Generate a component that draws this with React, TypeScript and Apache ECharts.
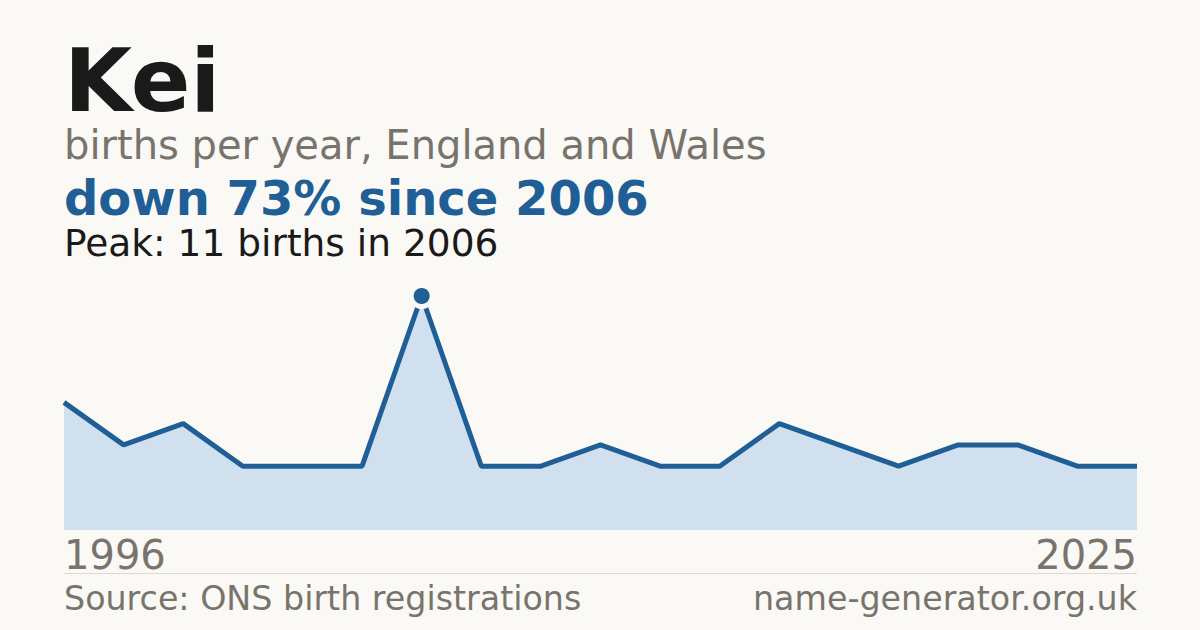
import { useEffect, useRef } from "react";
import * as echarts from "echarts";

// births per year, only the registered years (suppressed years are missing)
const years = [
  "1996", "1997", "1999", "2000", "2002", "2004", "2006", "2007", "2008", "2010",
  "2011", "2013", "2015", "2017", "2019", "2020", "2022", "2024", "2025",
];
const births = [6, 4, 5, 3, 3, 3, 11, 3, 3, 4, 3, 3, 5, 4, 3, 4, 4, 3, 3];

const peakYear = "2006";
const peakValue = 11;

const BG = "#faf9f5";
const BLUE = "#1f5f96";
const GREY = "#78746c";
const FONT = "DejaVu Sans";

export default function App() {
  const chartRef = useRef(null);

  useEffect(() => {
    const chart = echarts.init(chartRef.current, null, { renderer: "svg" });

    const options = {
      animation: false,
      backgroundColor: BG,
      grid: { left: 64, right: 63, top: 296, bottom: 100 },
      xAxis: {
        type: "category",
        data: years,
        boundaryGap: false,
        axisLine: { show: false },
        axisTick: { show: false },
        axisLabel: { show: false },
      },
      yAxis: {
        type: "value",
        min: 0,
        max: 11,
        show: false,
        splitLine: { show: false },
      },
      series: [
        {
          type: "line",
          data: births,
          symbol: "none",
          lineStyle: { color: BLUE, width: 5 },
          areaStyle: { color: "#d0e0ef", opacity: 1 },
          z: 2,
        },
        {
          type: "scatter",
          data: [[peakYear, peakValue]],
          symbol: "circle",
          symbolSize: 21,
          itemStyle: { color: BLUE, borderColor: BG, borderWidth: 5, opacity: 1 },
          z: 3,
        },
      ],
      graphic: [
        {
          type: "text",
          left: 64,
          top: 36,
          style: { text: "Kei", font: `bold 88px '${FONT}'`, fill: "#1a1a1a" },
        },
        {
          type: "text",
          left: 64,
          top: 125,
          style: { text: "births per year, England and Wales", font: `40px '${FONT}'`, fill: GREY },
        },
        {
          type: "text",
          left: 64,
          top: 174,
          style: { text: "down 73% since 2006", font: `bold 48px '${FONT}'`, fill: BLUE },
        },
        {
          type: "text",
          left: 64,
          top: 224,
          style: { text: "Peak: 11 births in 2006", font: `37.5px '${FONT}'`, fill: "#1a1a1a" },
        },
        {
          type: "text",
          left: 64,
          top: 535,
          style: { text: years[0], font: `40px '${FONT}'`, fill: GREY },
        },
        {
          type: "text",
          right: 63,
          top: 535,
          style: { text: years[years.length - 1], font: `40px '${FONT}'`, fill: GREY, textAlign: "right" },
        },
        {
          type: "line",
          shape: { x1: 64, y1: 573.5, x2: 1137, y2: 573.5 },
          style: { stroke: "#dcd9d2", lineWidth: 1 },
        },
        {
          type: "text",
          left: 64,
          top: 582,
          style: { text: "Source: ONS birth registrations", font: `33.3px '${FONT}'`, fill: GREY },
        },
        {
          type: "text",
          right: 63,
          top: 582,
          style: { text: "name-generator.org.uk", font: `33.3px '${FONT}'`, fill: GREY, textAlign: "right" },
        },
      ],
    };

    chart.setOption(options);

    return () => {
      chart.dispose();
    };
  }, []);

  return (
    <div
      ref={chartRef}
      style={{ position: "fixed", left: 0, top: 0, width: "1200px", height: "630px" }}
    />
  );
}
